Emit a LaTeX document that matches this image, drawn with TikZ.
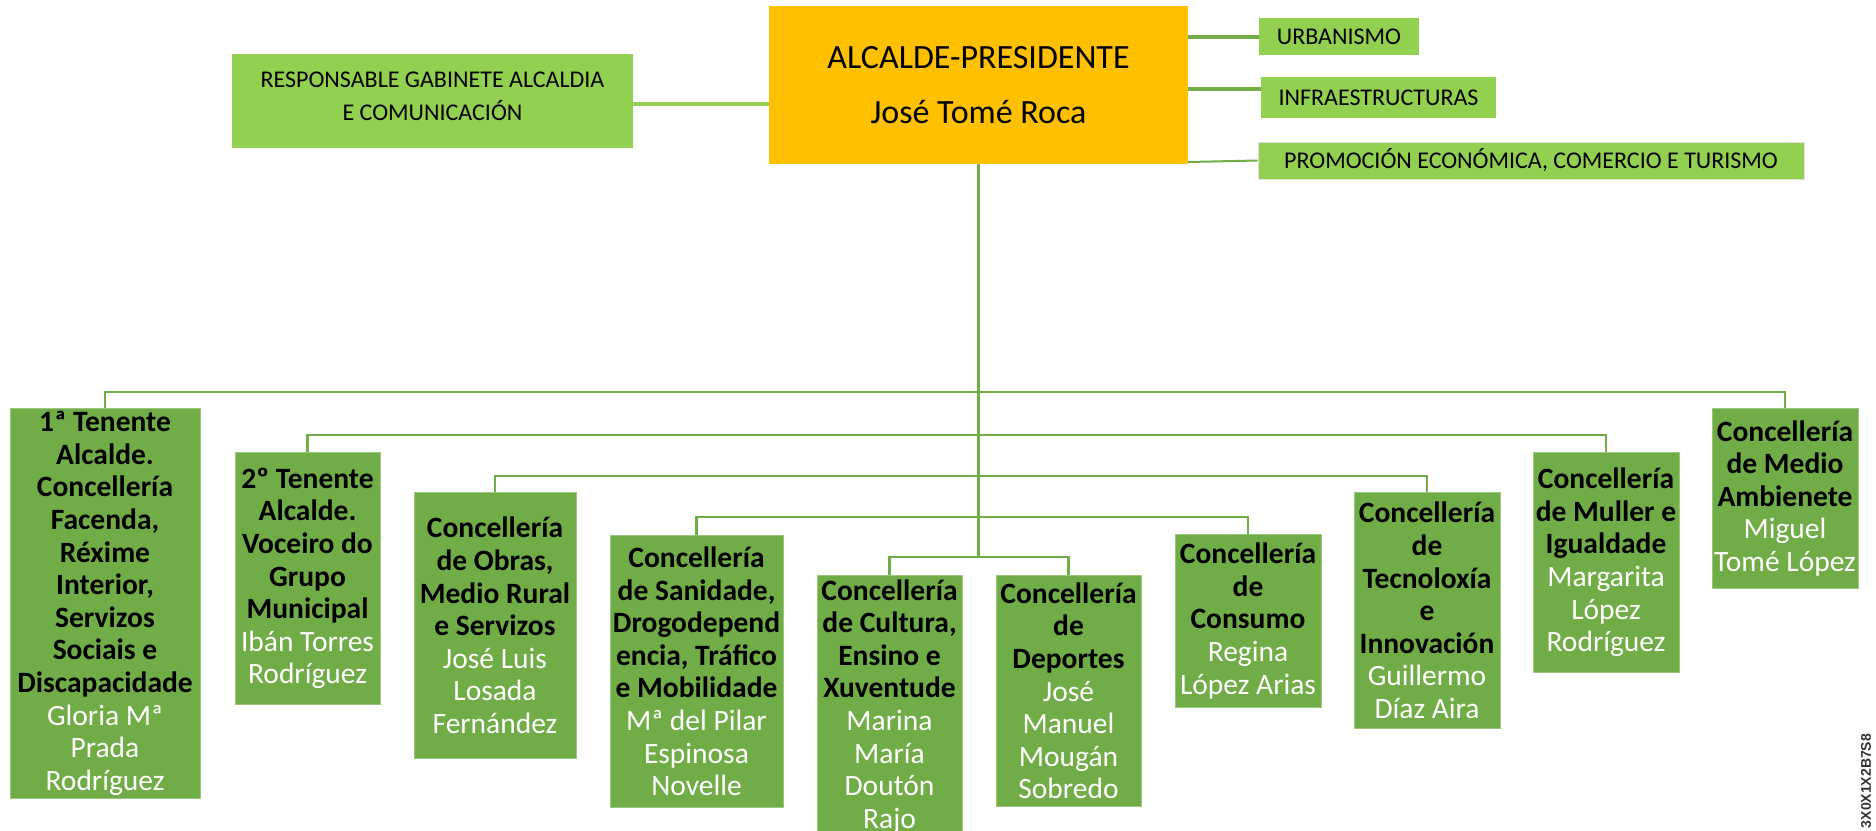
\documentclass[tikz,border=0pt]{standalone}
\usepackage{fontspec}
\setmainfont{Carlito}
\newfontfamily\markfont{Liberation Sans}
\usepackage{xcolor}
\definecolor{ramo}{HTML}{70AD47}
\definecolor{folla}{HTML}{92D050}
\definecolor{ouro}{HTML}{FFC000}
\newcommand{\nome}[1]{\textcolor{white}{\mdseries #1}}

\begin{document}
\begin{tikzpicture}[x=1pt,y=1pt,
	alto/.style={fill=ouro,inner sep=0pt,align=center,font=\fontsize{34}{55}\selectfont},
	area/.style={fill=folla,inner sep=0pt,align=center,font=\fontsize{24}{33}\selectfont},
	conc/.style={fill=ramo,draw=ramo!70!white,line width=0.8pt,anchor=north,inner sep=0pt,align=center,font=\fontsize{29.5}{32.6}\selectfont\bfseries},
	rama/.style={draw=ramo,line width=2.8pt}]
	\path[use as bounding box,fill=white] (0,0) rectangle (1876,-830);
	\node[alto,minimum width=419pt,minimum height=158pt] (alc) at (978.5,-85) {ALCALDE-PRESIDENTE\\José Tomé Roca};
	\node[area,text depth=10pt,minimum width=401pt,minimum height=94pt] (gab) at (432.5,-101) {RESPONSABLE GABINETE ALCALDIA\\E COMUNICACIÓN};
	\node[area,minimum width=160pt,minimum height=37pt] (urb) at (1339,-36.5) {URBANISMO};
	\node[area,minimum width=235pt,minimum height=41pt] (inf) at (1378.5,-97.5) {INFRAESTRUCTURAS};
	\node[area,draw=black!12,line width=1pt,minimum width=546pt,minimum height=37pt] (pro) at (1531,-160.5) {PROMOCIÓN ECONÓMICA, COMERCIO E TURISMO};
	\node[conc,minimum width=190pt,minimum height=390pt] (c1) at (105,-408) {1ª Tenente\\Alcalde.\\Concellería\\Facenda,\\Réxime\\Interior,\\Servizos\\Sociais e\\Discapacidade\\\nome{Gloria Mª}\\\nome{Prada}\\\nome{Rodríguez}};
	\node[conc,minimum width=145pt,minimum height=252pt] (c2) at (307.5,-452) {2º Tenente\\Alcalde.\\Voceiro do\\Grupo\\Municipal\\\nome{Ibán Torres}\\\nome{Rodríguez}};
	\node[conc,minimum width=162pt,minimum height=266pt] (c3) at (495,-492) {Concellería\\de Obras,\\Medio Rural\\e Servizos\\\nome{José Luis}\\\nome{Losada}\\\nome{Fernández}};
	\node[conc,minimum width=173pt,minimum height=272pt] (c4) at (696.5,-535) {Concellería\\de Sanidade,\\Drogodepend\\encia, Tráfico\\e Mobilidade\\\nome{Mª del Pilar}\\\nome{Espinosa}\\\nome{Novelle}};
	\node[conc,minimum width=145pt,minimum height=262pt] (c5) at (889.5,-575) {Concellería\\de Cultura,\\Ensino e\\Xuventude\\\nome{Marina}\\\nome{María}\\\nome{Doutón}\\\nome{Rajo}};
	\node[conc,minimum width=145pt,minimum height=231pt] (c6) at (1068.5,-575) {Concellería\\de\\Deportes\\\nome{José}\\\nome{Manuel}\\\nome{Mougán}\\\nome{Sobredo}};
	\node[conc,minimum width=146pt,minimum height=173pt] (c7) at (1248,-534) {Concellería\\de\\Consumo\\\nome{Regina}\\\nome{López Arias}};
	\node[conc,minimum width=146pt,minimum height=236pt] (c8) at (1427,-492) {Concellería\\de\\Tecnoloxía\\e\\Innovación\\\nome{Guillermo}\\\nome{Díaz Aira}};
	\node[conc,minimum width=146pt,minimum height=220pt] (c9) at (1606,-452) {Concellería\\de Muller e\\Igualdade\\\nome{Margarita}\\\nome{López}\\\nome{Rodríguez}};
	\node[conc,minimum width=146pt,minimum height=180pt] (c10) at (1785,-408) {Concellería\\de Medio\\Ambienete\\\nome{Miguel}\\\nome{Tomé López}};
	\node[rotate=90,font=\markfont\bfseries\fontsize{14}{14}\selectfont,text=black!80] (marca) at (1866,-781) {3X0X1X2B7S8};
	\draw[draw=folla,line width=4pt] ([yshift=-3pt]gab.east) -- ([yshift=-3pt]alc.west |- gab.east);
	\draw[rama,line width=4pt] (alc.east |- urb.west) -- (urb.west);
	\draw[rama,line width=4pt] ([yshift=8.5pt]alc.east |- inf.west) -- ([yshift=8.5pt]inf.west);
	\draw[rama,line width=2pt] ([yshift=-77pt]alc.east) -- (pro.west);
	\draw[rama] (alc.south) -- ([yshift=18pt]alc.south |- c5.north);
	\draw[rama] (c1.north) -- ++(0,16) -| (c10.north);
	\draw[rama] (c2.north) -- ++(0,17) -| (c9.north);
	\draw[rama] (c3.north) -- ++(0,16) -| (c8.north);
	\draw[rama] (c4.north) -- ++(0,18) -| (c7.north);
	\draw[rama] (c5.north) -- ++(0,18) -| (c6.north);
\end{tikzpicture}
\end{document}
